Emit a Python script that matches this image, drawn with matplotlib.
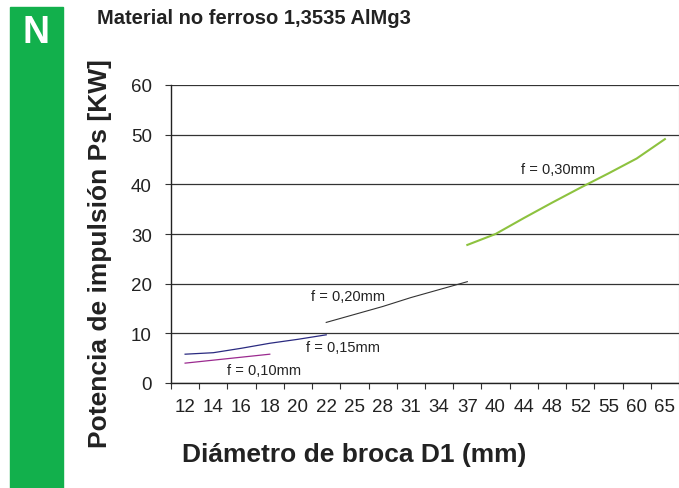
import numpy as np
import matplotlib.pyplot as plt
from matplotlib.patches import Rectangle

# Drill diameters (categorical axis) and feed curves
diametros = ['12', '14', '16', '18', '20', '22', '25', '28', '31', '34',
             '37', '40', '44', '48', '52', '55', '60', '65']

f010_x = ['12', '14', '16', '18']
f010_y = [4.0, 4.6, 5.2, 5.8]

f015_x = ['12', '14', '16', '18', '20', '22']
f015_y = [5.8, 6.1, 7.0, 8.0, 8.8, 9.7]

f020_x = ['22', '25', '28', '31', '34', '37']
f020_y = [12.2, 13.8, 15.4, 17.2, 18.8, 20.4]

f030_x = ['37', '40', '44', '48', '52', '55', '60', '65']
f030_y = [27.8, 30.0, 33.2, 36.3, 39.3, 42.2, 45.2, 49.1]

plt.rcParams['font.family'] = ['Liberation Sans', 'DejaVu Sans']
cond = ['Liberation Sans Narrow', 'Liberation Sans', 'DejaVu Sans']

fig = plt.figure(figsize=(6.79, 4.89), dpi=100)
W, H = 679, 489
ax = fig.add_axes([171/W, 1-384/H, 508/W, 298/H])

idx = {d: i for i, d in enumerate(diametros)}

def pos(xs):
    return [idx[x] for x in xs]

ax.plot(pos(f010_x), f010_y, color='#9b2a8f', lw=0.9)
ax.plot(pos(f015_x), f015_y, color='#2a2a80', lw=0.9)
ax.plot(pos(f020_x), f020_y, color='#333333', lw=0.8)
ax.plot(pos(f030_x), f030_y, color='#8dc23f', lw=1.5)

lab = dict(fontsize=10.5, color='#222222', va='center')
ax.text(1.5, 2.7, 'f = 0,10mm', **lab)
ax.text(4.3, 7.25, 'f = 0,15mm', **lab)
ax.text(4.45, 17.45, 'f = 0,20mm', **lab)
ax.text(13.22, 43.0, 'f = 0,30mm', ha='center', **lab)

ax.set_xlim(-0.5, len(diametros) - 0.5)
ax.set_ylim(0, 60)
ax.set_yticks(np.arange(0, 61, 10))
ax.set_xticks(np.arange(len(diametros)))
ax.set_xticklabels(diametros, fontsize=13.5, color='#222222')
ax.set_xticks(np.arange(len(diametros) + 1) - 0.5, minor=True)
ax.tick_params(axis='x', which='major', length=0, pad=11)
ax.tick_params(axis='x', which='minor', length=4.3, width=0.8, color='#333333', direction='out')
ax.tick_params(axis='y', labelsize=13.5, labelcolor='#222222', length=4.3, width=0.8,
               color='#333333', pad=9.5)

ax.grid(axis='y', color='#333333', lw=0.9)
ax.set_axisbelow(True)
for s in ['left', 'bottom']:
    ax.spines[s].set_color('#222222')
    ax.spines[s].set_linewidth(1.0)
ax.spines['top'].set_visible(False)
ax.spines['right'].set_color('#aaaaaa')
ax.spines['right'].set_linewidth(0.8)

# Green side tab
fig.patches.append(Rectangle((10/W, 0), 53/W, 1-8/H, transform=fig.transFigure,
                             color='#12b04c', zorder=0))
fig.text(36/W, 1-33/H, 'N', color='white', fontsize=27, fontweight='bold',
         family=cond, ha='center', va='center')

fig.text(97/W, 1-18/H, 'Material no ferroso 1,3535 AlMg3', fontsize=14.5,
         fontweight='bold', family=cond, ha='left', va='center', color='#222222')
fig.text(100/W, 1-254/H, 'Potencia de impulsión Ps [KW]', fontsize=19,
         fontweight='bold', family=cond, rotation=90, ha='center', va='center',
         color='#222222')
fig.text(354/W, 1-455/H, 'Diámetro de broca D1 (mm)', fontsize=19,
         fontweight='bold', family=cond, ha='center', va='center', color='#222222')

fig.savefig('out.png', dpi=100)
